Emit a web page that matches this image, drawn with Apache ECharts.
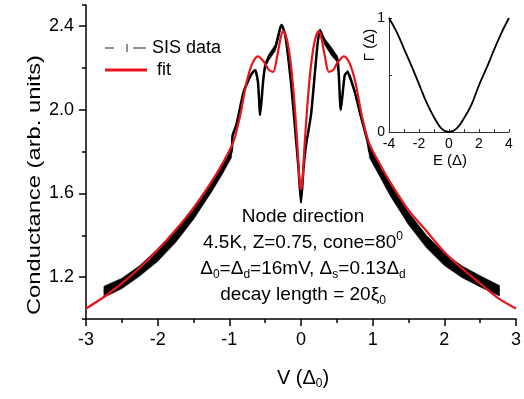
<!DOCTYPE html>
<html>
<head>
<meta charset="utf-8">
<script src="https://cdn.jsdelivr.net/npm/echarts@6/dist/echarts.min.js"></script>
<style>html,body{margin:0;padding:0;background:#fff}#main{width:524px;height:399px}</style>
</head>
<body>
<div id="main"></div>
<script>
var FONT = 'Liberation Sans, Arial, sans-serif';

// SIS data: bias (units of Delta0), centre conductance, half thickness of the data band
var dataV  = [-2.75, -2.5, -2.25, -2, -1.75, -1.5, -1.25, -1.1, -0.97, -0.955,
              -0.9, -0.8, -0.7, -0.64, -0.6, -0.57, -0.53, -0.5, -0.45, -0.36,
              -0.29, -0.27, -0.22, -0.14, -0.07, -0.035, 0, 0.035, 0.07, 0.14,
              0.2, 0.235, 0.265, 0.33, 0.42, 0.51, 0.555, 0.61, 0.65, 0.75,
              0.83, 0.92, 0.94, 0.955, 1.1, 1.25, 1.5, 1.75, 2, 2.25,
              2.5, 2.77];
var dataG  = [1.13, 1.17, 1.23, 1.305, 1.395, 1.505, 1.63, 1.715, 1.80, 1.875,
              1.93, 2.085, 2.165, 2.19, 2.13, 1.975, 2.13, 2.21, 2.25, 2.295,
              2.39, 2.405, 2.355, 2.13, 1.86, 1.72, 1.557, 1.72, 1.83, 1.976,
              2.2, 2.325, 2.38, 2.325, 2.28, 2.24, 2.0, 2.165, 2.18, 2.085,
              1.975, 1.86, 1.83, 1.80, 1.71, 1.615, 1.48, 1.37, 1.285, 1.225,
              1.18, 1.135];
var dataHW = [0.027, 0.025, 0.025, 0.03, 0.03, 0.03, 0.025, 0.025, 0.03, 0,
              0.008, 0.008, 0.008, 0, 0, 0, 0, 0.01, 0.015, 0.015,
              0.01, 0, 0, 0, 0, 0, 0, 0, 0, 0,
              0, 0, 0, 0.015, 0.02, 0.015, 0, 0, 0.008, 0.008,
              0.008, 0, 0, 0.03, 0.03, 0.03, 0.03, 0.03, 0.03, 0.028,
              0.027, 0.025];

// fit curve
var fitV = [-3, -2.75, -2.5, -2.25, -2, -1.75, -1.5, -1.25, -1.1, -0.95,
            -0.85, -0.76, -0.68, -0.6, -0.52, -0.45, -0.39, -0.33, -0.28, -0.25,
            -0.2, -0.15, -0.1, -0.05, -0.02, 0, 0.02, 0.05, 0.1, 0.15,
            0.2, 0.25, 0.28, 0.33, 0.39, 0.45, 0.52, 0.6, 0.68, 0.76,
            0.85, 0.95, 1.1, 1.25, 1.5, 1.75, 2, 2.25, 2.5, 2.75, 3];
var fitG = [1.05, 1.105, 1.17, 1.245, 1.33, 1.425, 1.53, 1.655, 1.74, 1.84,
            1.97, 2.13, 2.22, 2.255, 2.23, 2.19, 2.18, 2.26, 2.35, 2.375,
            2.34, 2.24, 2.07, 1.83, 1.66, 1.62, 1.66, 1.83, 2.07, 2.24,
            2.34, 2.375, 2.35, 2.26, 2.18, 2.19, 2.23, 2.255, 2.22, 2.13,
            1.97, 1.84, 1.74, 1.65, 1.52, 1.42, 1.32, 1.24, 1.17, 1.1, 1.05];

// inset: broadening Gamma vs energy
var insetE = [-4, -3.5, -3, -2.5, -2, -1.5, -1, -0.5, 0, 0.5, 1, 1.5, 2, 2.5, 3, 3.5, 4];
var insetGamma = [1.0, 0.88, 0.73, 0.58, 0.42, 0.26, 0.13, 0.03, 0, 0.03, 0.12, 0.24, 0.41, 0.56, 0.72, 0.87, 1.0];

// major tick positions of the conductance axis
var gCats = ['1.0', '1.1', '1.2', '1.3', '1.4', '1.5', '1.6', '1.7', '1.8', '1.9',
             '2.0', '2.1', '2.2', '2.3', '2.4', '2.5'];
var gMajor = ['1.2', '1.6', '2.0', '2.4'];

function zip(a, b) {
    return a.map(function (v, i) { return [v, b[i]]; });
}

var chart = echarts.init(document.getElementById('main'));

var subRich = {
    sub: { fontSize: 12, padding: [11, 0, 0, 0] },
    sup: { fontSize: 12, padding: [0, 0, 12, 0] }
};

// band of the SIS data (error bars), one polygon through the axis scales
function renderBand(params, api) {
    var upper = [], lower = [];
    for (var i = 0; i < dataV.length; i++) {
        upper.push(api.coord([dataV[i], dataG[i] + dataHW[i]]));
        lower.unshift(api.coord([dataV[i], dataG[i] - dataHW[i]]));
    }
    return {
        type: 'polygon',
        shape: { points: upper.concat(lower) },
        style: { fill: '#000', stroke: '#000', lineWidth: 0.5 }
    };
}

var option = {
    animation: false,
    backgroundColor: '#fff',
    grid: [
        { left: 86, right: 4, top: 5, bottom: 80 },
        { left: 389, top: 18, width: 120, height: 114 }
    ],
    xAxis: [
        {
            type: 'value', gridIndex: 0, min: -3, max: 3, interval: 1,
            axisLine: { onZero: false, lineStyle: { color: '#000', width: 1.5 } },
            axisTick: { length: 7, lineStyle: { color: '#000', width: 1.5 } },
            minorTick: { show: true, splitNumber: 2, length: 4, lineStyle: { color: '#000', width: 1.5 } },
            splitLine: { show: false },
            axisLabel: { margin: 12, color: '#000', fontSize: 18, fontFamily: FONT, showMaxLabel: true }
        },
        {
            type: 'value', gridIndex: 1, min: -4, max: 4, interval: 1,
            axisLine: { onZero: false, lineStyle: { color: '#333', width: 1 } },
            axisTick: { inside: true, length: 3, lineStyle: { color: '#333' } },
            splitLine: { show: false },
            axisLabel: {
                margin: 5, color: '#000', fontSize: 14, fontFamily: FONT,
                formatter: function (v) { return v % 2 === 0 ? String(v) : ''; }
            }
        }
    ],
    yAxis: [
        {
            type: 'value', gridIndex: 0, position: 'left', min: 1.0, max: 2.5, interval: 0.2,
            axisLine: { show: true, onZero: false, lineStyle: { color: '#000', width: 1.5 } },
            axisTick: { show: true, length: 4, lineStyle: { color: '#000', width: 1.5 } },
            splitLine: { show: false },
            axisLabel: {
                margin: 12, color: '#000', fontSize: 18, fontFamily: FONT,
                formatter: function (v) {
                    return Math.round(v * 10) % 4 === 0 ? v.toFixed(1) : '';
                }
            }
        },
        {
            type: 'category', gridIndex: 0, position: 'left', data: gCats, boundaryGap: false,
            axisLine: { show: false, onZero: false },
            axisTick: {
                show: true, length: 7, lineStyle: { color: '#000', width: 1.5 },
                interval: function (i, v) { return gMajor.indexOf(v) >= 0; }
            },
            axisLabel: { show: false },
            splitLine: { show: false }
        },
        {
            type: 'value', gridIndex: 1, min: 0, max: 1, interval: 0.5,
            axisLine: { show: true, onZero: false, lineStyle: { color: '#333', width: 1 } },
            axisTick: { show: true, inside: true, length: 3, lineStyle: { color: '#333' } },
            splitLine: { show: false },
            axisLabel: {
                margin: 4, color: '#000', fontSize: 14, fontFamily: FONT,
                formatter: function (v) { return v === 0 || v === 1 ? String(v) : ''; }
            }
        }
    ],
    series: [
        {
            name: 'band', type: 'custom', xAxisIndex: 0, yAxisIndex: 0,
            renderItem: renderBand,
            data: [0],
            silent: true
        },
        {
            name: 'SIS data', type: 'line', xAxisIndex: 0, yAxisIndex: 0,
            symbol: 'none', smooth: 0.2,
            lineStyle: { color: '#000', width: 2.5 },
            data: zip(dataV, dataG)
        },
        {
            name: 'fit', type: 'line', xAxisIndex: 0, yAxisIndex: 0,
            symbol: 'none', smooth: 0.3,
            lineStyle: { color: '#e8141b', width: 2.2 },
            data: zip(fitV, fitG)
        },
        {
            name: 'gamma', type: 'line', xAxisIndex: 1, yAxisIndex: 2,
            symbol: 'none', smooth: 0.4,
            lineStyle: { color: '#000', width: 1.8 },
            data: zip(insetE, insetGamma)
        }
    ],
    graphic: [
        // legend
        { type: 'line', shape: { x1: 105, y1: 48, x2: 114, y2: 48 }, style: { stroke: '#444', lineWidth: 1.2 } },
        { type: 'line', shape: { x1: 127, y1: 44, x2: 127, y2: 52 }, style: { stroke: '#444', lineWidth: 1.2 } },
        { type: 'line', shape: { x1: 133, y1: 48, x2: 146, y2: 48 }, style: { stroke: '#444', lineWidth: 1.2 } },
        { type: 'text', x: 152, y: 48, style: { text: 'SIS data', fontSize: 18, fontFamily: FONT, fill: '#000', verticalAlign: 'middle' } },
        { type: 'line', shape: { x1: 105, y1: 70, x2: 147, y2: 70 }, style: { stroke: '#e8141b', lineWidth: 3 } },
        { type: 'text', x: 157, y: 70, style: { text: 'fit', fontSize: 18, fontFamily: FONT, fill: '#000', verticalAlign: 'middle' } },
        // annotation
        { type: 'text', x: 303, y: 217, style: { text: 'Node direction', fontSize: 19, fontFamily: FONT, fill: '#000', align: 'center', verticalAlign: 'middle' } },
        { type: 'text', x: 303, y: 243, style: { text: '4.5K, Z=0.75, cone=80{sup|0}', rich: subRich, fontSize: 19, fontFamily: FONT, fill: '#000', align: 'center', verticalAlign: 'middle' } },
        { type: 'text', x: 303, y: 269, style: { text: 'Δ{sub|0}=Δ{sub|d}=16mV, Δ{sub|s}=0.13Δ{sub|d}', rich: subRich, fontSize: 19, fontFamily: FONT, fill: '#000', align: 'center', verticalAlign: 'middle' } },
        { type: 'text', x: 303, y: 295, style: { text: 'decay length = 20ξ{sub|0}', rich: subRich, fontSize: 19, fontFamily: FONT, fill: '#000', align: 'center', verticalAlign: 'middle' } },
        // axis names
        { type: 'text', x: 303, y: 378, style: { text: 'V (Δ{sub|0})', rich: subRich, fontSize: 20, fontFamily: FONT, fill: '#000', align: 'center', verticalAlign: 'middle' } },
        { type: 'text', x: 35, y: 185, rotation: Math.PI / 2, scaleX: 1.25, style: { text: 'Conductance (arb. units)', fontSize: 19, fontFamily: FONT, fill: '#000', align: 'center', verticalAlign: 'middle' } },
        { type: 'text', x: 450, y: 161, style: { text: 'E (Δ)', fontSize: 15, fontFamily: FONT, fill: '#000', align: 'center', verticalAlign: 'middle' } },
        { type: 'text', x: 370, y: 45, rotation: Math.PI / 2, style: { text: 'Γ (Δ)', fontSize: 15, fontFamily: FONT, fill: '#000', align: 'center', verticalAlign: 'middle' } }
    ]
};

chart.setOption(option);
</script>
</body>
</html>
